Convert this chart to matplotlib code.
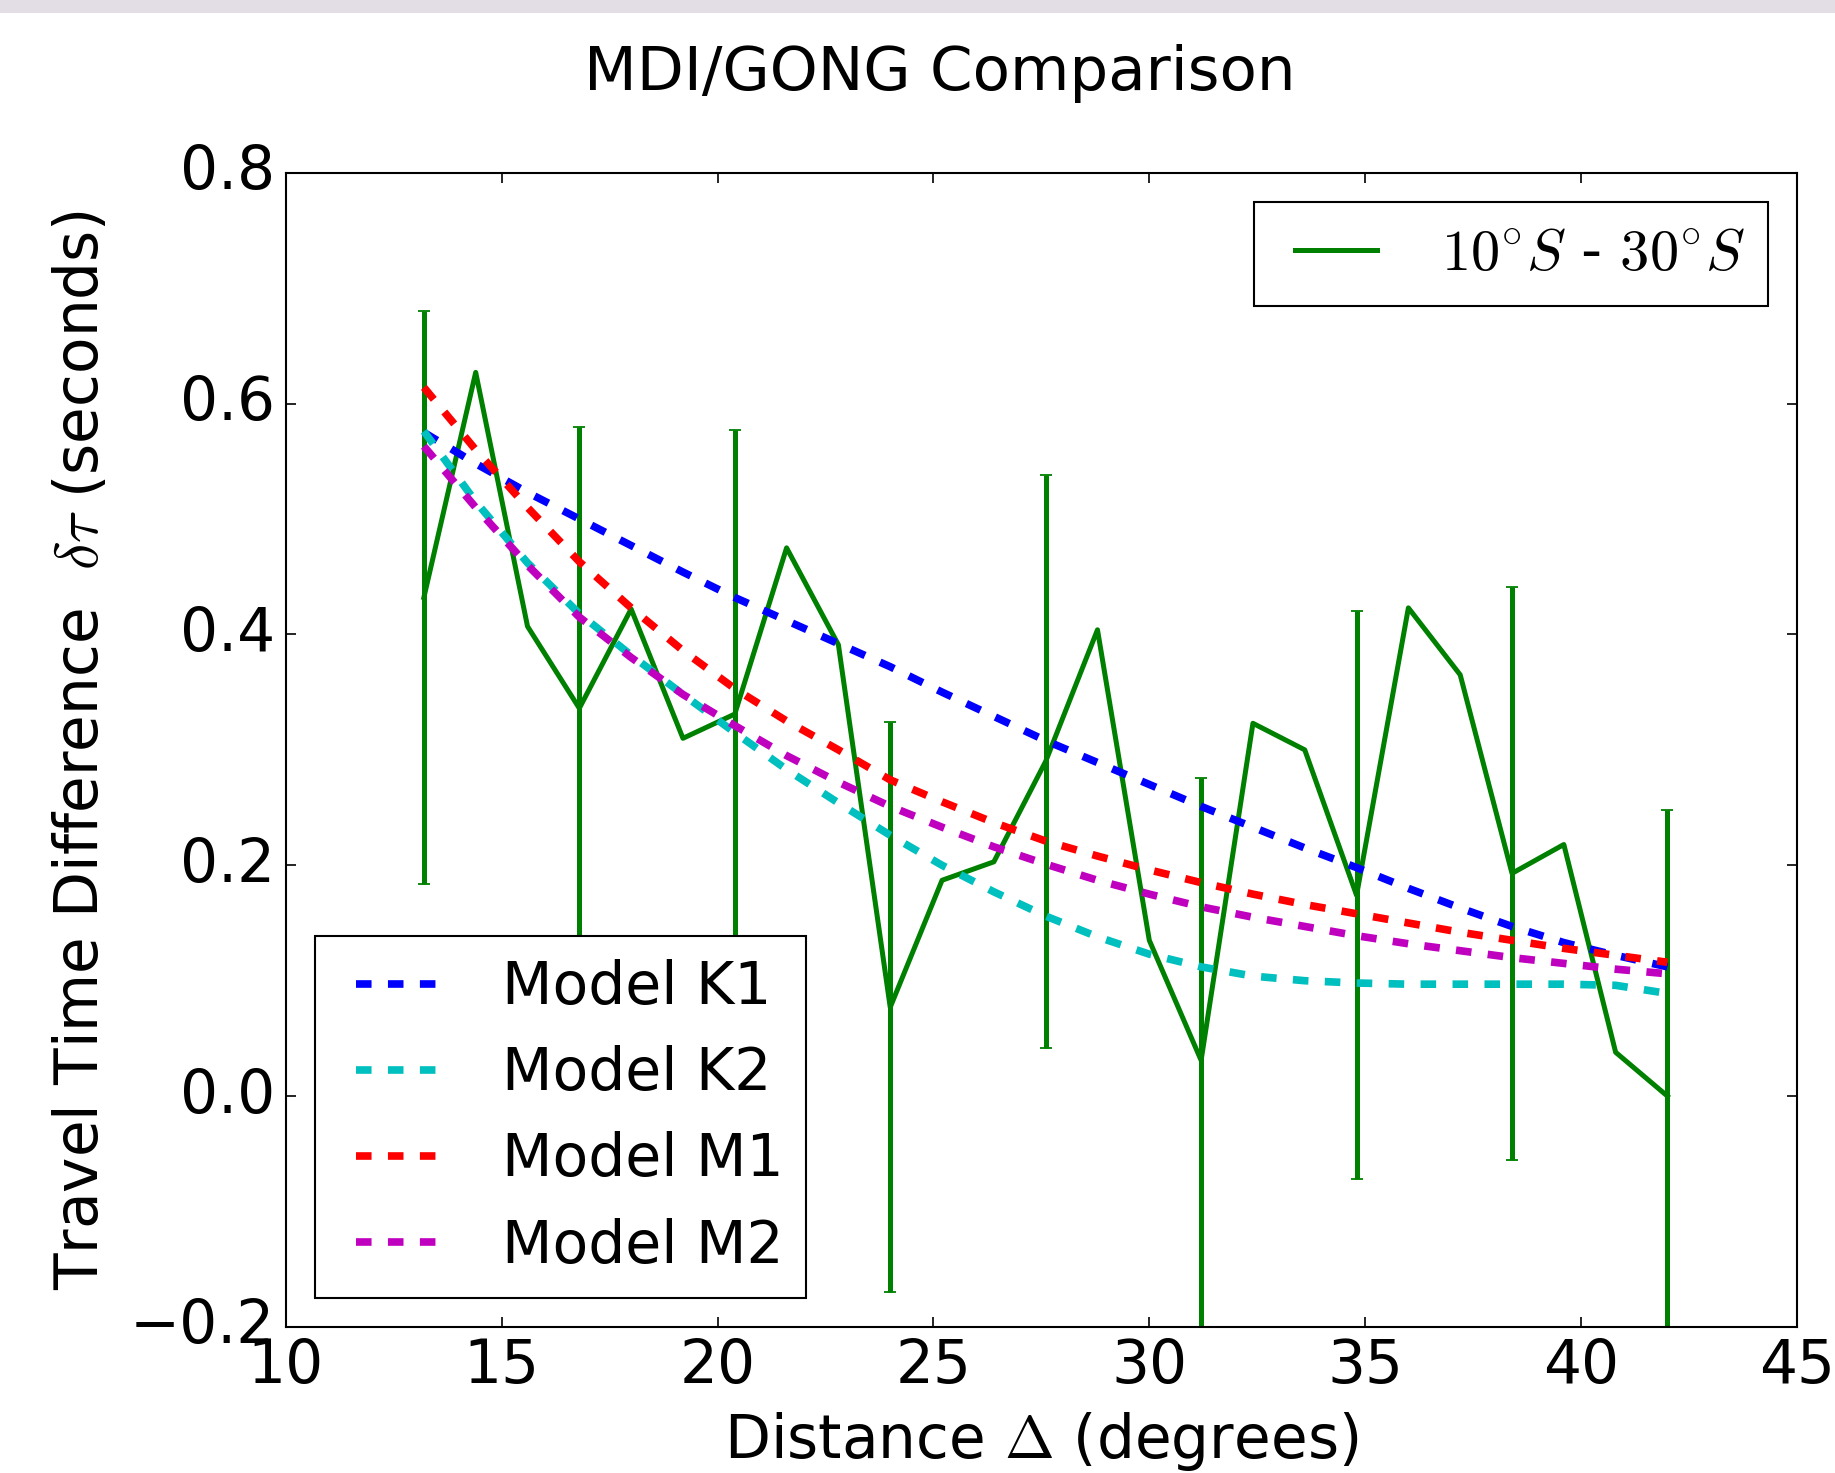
import matplotlib
matplotlib.use("Agg")
import matplotlib.pyplot as plt
from matplotlib.patches import Rectangle

# measured travel time differences (10S - 30S band)
distance = [13.2, 14.4, 15.6, 16.8, 18.0, 19.2, 20.4, 21.6, 22.8, 24.0, 25.2, 26.4, 27.6,
            28.8, 30.0, 31.2, 32.4, 33.6, 34.8, 36.0, 37.2, 38.4, 39.6, 40.8, 42.0]
delta_tau = [0.432, 0.627, 0.407, 0.336, 0.422, 0.310, 0.331, 0.475, 0.391, 0.077, 0.187, 0.203, 0.290,
             0.404, 0.135, 0.031, 0.323, 0.300, 0.174, 0.423, 0.365, 0.193, 0.218, 0.038, 0.000]

# error bars only on every third point
err_distance = [13.2, 16.8, 20.4, 24.0, 27.6, 31.2, 34.8, 38.4, 42.0]
err_tau = [0.432, 0.336, 0.331, 0.077, 0.290, 0.031, 0.174, 0.193, 0.000]
err_size = [0.248, 0.244, 0.246, 0.247, 0.248, 0.245, 0.246, 0.248, 0.248]

# model predictions
model_k1 = [0.575, 0.548, 0.523, 0.500, 0.477, 0.454, 0.432, 0.412, 0.392, 0.372, 0.350, 0.329, 0.308,
            0.289, 0.270, 0.251, 0.233, 0.215, 0.198, 0.180, 0.163, 0.147, 0.133, 0.122, 0.112]
model_k2 = [0.576, 0.515, 0.462, 0.418, 0.382, 0.348, 0.315, 0.283, 0.254, 0.226, 0.200, 0.177, 0.156,
            0.138, 0.123, 0.112, 0.104, 0.100, 0.098, 0.097, 0.097, 0.097, 0.097, 0.096, 0.089]
model_m1 = [0.614, 0.560, 0.510, 0.463, 0.423, 0.386, 0.353, 0.325, 0.300, 0.274, 0.255, 0.237, 0.221,
            0.208, 0.196, 0.185, 0.175, 0.166, 0.158, 0.150, 0.142, 0.135, 0.128, 0.122, 0.116]
model_m2 = [0.563, 0.510, 0.460, 0.415, 0.380, 0.348, 0.321, 0.295, 0.272, 0.251, 0.233, 0.216, 0.201,
            0.187, 0.175, 0.164, 0.155, 0.147, 0.139, 0.132, 0.126, 0.120, 0.115, 0.110, 0.106]

models = [("Model K1", model_k1, "b"), ("Model K2", model_k2, "c"),
          ("Model M1", model_m1, "r"), ("Model M2", model_m2, "m")]

plt.style.use("classic")
plt.rcParams.update({
    "font.size": 43,
    "lines.scale_dashes": False,
    "figure.facecolor": "white",
    "savefig.facecolor": "white",
})

fig = plt.figure(figsize=(18.35, 14.73), dpi=100)
fig.add_artist(Rectangle((0, 1 - 13 / 1473), 1, 13 / 1473, transform=fig.transFigure,
                         color="#e3dde6", lw=0, zorder=-10))
ax = fig.add_axes([285.7 / 1835, 1 - 1327 / 1473, 1511.3 / 1835, 1154.3 / 1473])

# data with error bars
green, = ax.plot(distance, delta_tau, color="g", lw=3.6, label=r"$10^{\circ}S$ - $30^{\circ}S$")
ax.errorbar(err_distance, err_tau, yerr=err_size, fmt="none", ecolor="g",
            elinewidth=3.6, capsize=4.3, capthick=1.3)

model_lines = []
for name, vals, col in models:
    ln, = ax.plot(distance, vals, color=col, lw=5.5, ls=(0, (11.2, 11.8)), label=name)
    model_lines.append(ln)

ax.set_xlim(10, 45)
ax.set_ylim(-0.2, 0.8)
ax.set_xticks([10, 15, 20, 25, 30, 35, 40, 45])
ax.set_yticks([-0.2, 0.0, 0.2, 0.4, 0.6, 0.8])
ax.tick_params(which="major", direction="in", length=7, width=1.2, pad=7.5,
               labelsize=43, top=True, right=True)
for sp in ax.spines.values():
    sp.set_linewidth(1.5)

# title sits left of the axes centre in the original
fig.text(940 / 1835, 1 - 90 / 1473, "MDI/GONG Comparison", fontsize=44,
         ha="center", va="baseline")
ax.set_xlabel(r"Distance $\Delta$ (degrees)", fontsize=43)
ax.set_ylabel(r"Travel Time Difference  $\delta\tau$ (seconds)", fontsize=43)
ax.xaxis.set_label_coords(0.5, -0.072)
ax.yaxis.set_label_coords(-0.1156, 0.5)

leg_kw = dict(fontsize=42, numpoints=2, handlelength=2.0, handletextpad=0.8,
              borderpad=0.4, labelspacing=0.5, borderaxespad=0.5,
              fancybox=False, shadow=False)
leg1 = ax.legend(handles=[green], loc="upper right", **leg_kw)
leg1.get_frame().set_linewidth(1.5)
ax.add_artist(leg1)
leg2 = ax.legend(handles=model_lines, loc="lower left", **leg_kw)
leg2.get_frame().set_linewidth(1.5)

fig.savefig("out.png", dpi=100)
